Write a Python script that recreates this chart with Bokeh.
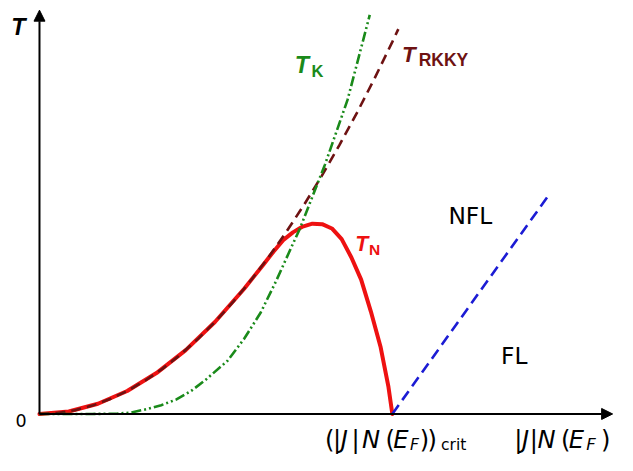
from bokeh.plotting import figure
from bokeh.models import Range1d, Arrow, NormalHead, Label
from bokeh.embed import file_html
from bokeh.resources import INLINE

# ---- data (x = |J|N(E_F), critical value = 1; T in same arbitrary units) ----
TN_x = [0.0, 0.0829, 0.1657, 0.2486, 0.3315, 0.4144, 0.4972, 0.5801, 0.6354, 0.6630,
        0.6906, 0.7182, 0.7459, 0.7735, 0.8011, 0.8287, 0.8564, 0.8840, 0.9116, 0.9392,
        0.9669, 0.9890, 1.0]
TN_y = [0.0, 0.0072, 0.0293, 0.0657, 0.1169, 0.1826, 0.2630, 0.3580, 0.4282, 0.4641,
        0.4972, 0.5193, 0.5359, 0.5442, 0.5428, 0.5304, 0.5000, 0.4475, 0.3840, 0.2928,
        0.1906, 0.0773, 0.0]

RKKY_x = [0.0, 0.05, 0.10, 0.15, 0.20, 0.25, 0.30, 0.35, 0.40, 0.45, 0.50, 0.55, 0.60,
          0.65, 0.70, 0.75, 0.80, 0.85, 0.90, 0.95, 1.00, 1.017]
RKKY_y = [0.0, 0.0027, 0.0106, 0.0239, 0.0426, 0.0665, 0.0958, 0.1303, 0.1702, 0.2155,
          0.2660, 0.3219, 0.3830, 0.4495, 0.5214, 0.5985, 0.6810, 0.7687, 0.8618, 0.9603,
          1.0640, 1.1005]

TK_x = [0.0, 0.15, 0.221, 0.26, 0.304, 0.345, 0.387, 0.430, 0.470, 0.533, 0.580, 0.627,
        0.671, 0.718, 0.738, 0.809, 0.873, 0.936]
TK_y = [0.0, 0.0, 0.001, 0.004, 0.014, 0.025, 0.041, 0.066, 0.097, 0.152, 0.215, 0.290,
        0.381, 0.486, 0.530, 0.713, 0.898, 1.141]

FL_x = [1.0, 1.442]
FL_y = [0.0, 0.624]

# ---- layout helpers: reference-pixel -> data units ----
PX = 362.0
def dx(X):
    return (X - 40) / PX
def dy(Y):
    return (428 - Y) / PX

S = 0.97  # font scale (canvas 617x455 vs 633x471 window)

p = figure(width=617, height=455,
           x_range=Range1d(dx(0), dx(633)), y_range=Range1d(dy(471), dy(0)),
           output_backend="svg", toolbar_location=None,
           x_axis_location=None, y_axis_location=None, min_border=0)
p.grid.visible = False
p.outline_line_color = None
p.background_fill_color = "white"
p.border_fill_color = "white"

# axes with arrows
p.add_layout(Arrow(x_start=0, y_start=0, x_end=dx(628), y_end=0, line_width=2,
                   line_color="black",
                   end=NormalHead(size=11, fill_color="black", line_color="black", line_width=1)))
p.add_layout(Arrow(x_start=0, y_start=0, x_end=0, y_end=dy(10), line_width=2,
                   line_color="black",
                   end=NormalHead(size=11, fill_color="black", line_color="black", line_width=1)))

# curves
p.line(TN_x, TN_y, line_color="#ee1111", line_width=4, line_cap="round", line_join="round")
p.line(RKKY_x, RKKY_y, line_color="#6e1212", line_width=2.6, line_dash="10 6")
p.line(TK_x, TK_y, line_color="#1a8a1a", line_width=2.6, line_dash="10 3 2 3 2 3")
p.line(FL_x, FL_y, line_color="#1c1cd4", line_width=2.6, line_dash="11 6")


def lab(text, X, Y, size, color="black", style="normal", font="DejaVu Sans", align="left"):
    p.add_layout(Label(x=dx(X), y=dy(Y), text=text, text_font=font,
                       text_font_size=f"{size * S:.1f}px", text_color=color,
                       text_font_style=style, text_align=align,
                       text_baseline="alphabetic"))

# axis labels
lab("T", 11, 27, 24, style="bold italic", font="Liberation Sans")
lab("0", 21, 435, 18, align="center")

BL = 455
crit = [("(", 333, "normal"), ("|", 341, "normal"), ("J", 349, "italic"),
        ("|", 360, "normal"), ("N", 371, "italic"), ("(", 395, "normal"),
        ("E", 403, "italic")]
for ch, X, st in crit:
    lab(ch, X, BL, 25, style=st)
lab("F", 420, BL + 5, 16, style="italic")
lab(")", 430, BL, 25)
lab(")", 438, BL, 25)
lab("crit", 452, BL + 5, 16)

xl = [("|", 527, "normal"), ("J", 535, "italic"), ("|", 543, "normal"),
      ("N", 551, "italic"), ("(", 575, "normal"), ("E", 583, "italic")]
for ch, X, st in xl:
    lab(ch, X, BL, 25, style=st)
lab("F", 601, BL + 5, 17, style="italic")
lab(")", 616, BL, 25)

# curve labels
lab("T", 302, 67, 24, color="#1a8a1a", style="bold italic", font="Liberation Sans")
lab("K", 319, 73, 17, color="#1a8a1a", style="bold", font="Liberation Sans")
lab("T", 412, 56, 23, color="#6e1212", style="bold italic", font="Liberation Sans")
lab("RKKY", 429, 62, 18, color="#6e1212", style="bold", font="Liberation Sans")
lab("T", 364, 252, 22, color="#ee1111", style="bold italic", font="Liberation Sans")
lab("N", 378, 258, 16, color="#ee1111", style="bold", font="Liberation Sans")

lab("NFL", 482, 223, 24, align="center")
lab("FL", 527, 367, 24, align="center")

open("out.html", "w").write(file_html(p, INLINE))
